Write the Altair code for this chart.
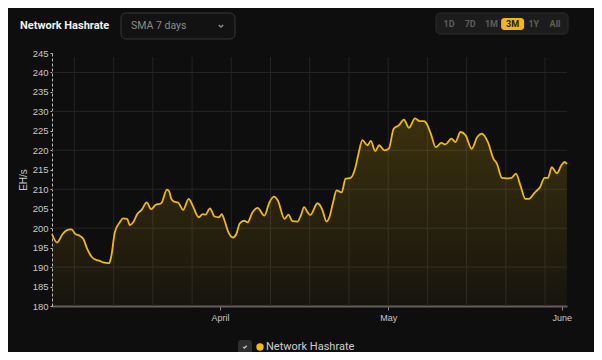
import altair as alt
import pandas as pd

# ---- data ----
day_offsets = [0.0, 0.9, 1.9, 2.9, 3.5, 4.1, 5.0, 5.6, 6.3, 7.1, 8.0, 8.5, 9.1, 10.2, 10.6,
               11.2, 12.1, 12.7, 13.4, 13.9, 14.5, 15.2, 16.0, 16.9, 17.7, 18.5, 19.5, 20.5,
               20.9, 21.3, 21.8, 22.5, 23.4, 24.4, 25.1, 26.2, 26.9, 27.4, 28.2, 29.0, 29.8,
               30.3, 30.8, 31.5, 32.3, 32.9, 33.5, 34.3, 34.9, 35.8, 36.7, 37.9, 38.8, 39.6,
               40.3, 41.5, 42.2, 42.9, 43.8, 44.4, 45.0, 45.6, 46.1, 47.4, 48.2, 49.0, 49.5,
               50.1, 50.8, 51.7, 52.4, 53.3, 54.1, 54.7, 55.4, 56.3, 56.9, 57.7, 58.4, 59.3,
               60.1, 61.0, 61.9, 62.8, 63.7, 64.8, 65.6, 66.4, 66.8, 67.6, 68.5, 69.5, 70.2,
               71.3, 72.0, 72.9, 73.8, 74.9, 75.9, 76.7, 77.8, 78.8, 79.4, 80.3, 81.2, 82.0,
               82.8, 83.6, 84.5, 85.1, 86.2, 87.1, 87.9, 88.5, 89.2, 90.1, 90.9, 91.5, 91.9]
hashrate = [198.5, 196.3, 198.5, 199.6, 199.7, 198.6, 198.0, 197.2, 194.6, 192.6, 191.8, 191.6,
            191.2, 191.0, 192.9, 198.9, 201.5, 202.5, 202.4, 200.8, 201.5, 203.6, 204.7, 206.6,
            204.9, 206.0, 206.4, 209.9, 209.5, 207.5, 206.8, 206.6, 204.7, 207.5, 205.8, 202.8,
            203.6, 203.5, 205.1, 203.0, 202.8, 203.6, 201.9, 198.9, 197.6, 198.5, 201.2, 201.9,
            201.5, 204.1, 205.2, 203.2, 206.6, 208.1, 207.1, 202.4, 203.5, 201.8, 201.7, 203.2,
            205.4, 204.1, 203.4, 206.4, 204.9, 201.7, 202.8, 206.2, 209.7, 209.2, 212.7, 212.9,
            215.3, 219.1, 222.6, 221.3, 222.4, 219.8, 221.3, 220.0, 220.4, 225.6, 226.4, 227.9,
            225.8, 228.2, 227.5, 227.5, 227.0, 224.3, 220.8, 221.9, 221.5, 223.0, 222.1, 224.7,
            223.9, 220.4, 223.4, 224.3, 222.1, 217.8, 216.6, 212.9, 212.8, 212.9, 214.0, 211.0,
            207.5, 207.5, 209.2, 210.5, 212.9, 212.9, 215.7, 214.1, 216.1, 217.0, 216.5]
grid_weeks = ["2022-03-06", "2022-03-13", "2022-03-20", "2022-03-27", "2022-04-03",
              "2022-04-10", "2022-04-17", "2022-04-24", "2022-05-01", "2022-05-08",
              "2022-05-15", "2022-05-22", "2022-05-29"]
grid_levels = [190, 200, 210, 220, 230, 240]
y_ticks = [180, 185, 190, 195, 200, 205, 210, 215, 220, 225, 230, 235, 240, 245]
range_buttons = ["1D", "7D", "1M", "3M", "1Y", "All"]
selected_range = "3M"
series_name = "Network Hashrate"

base_date = pd.Timestamp("2022-03-02")
df = pd.DataFrame({"date": base_date + pd.to_timedelta(day_offsets, unit="D"),
                   "value": hashrate})
grid_x_df = pd.DataFrame({"date": pd.to_datetime(grid_weeks)})
grid_y_df = pd.DataFrame({"value": grid_levels})
one = pd.DataFrame({"k": [0]})

YELLOW = "#f0b90b"
BG = "#0e0e0e"
UI_FONT = "Roboto"
AX_FONT = "Liberation Sans"

xscale = alt.Scale(domain=[alt.DateTime(year=2022, month=3, date=2),
                           alt.DateTime(year=2022, month=6, date=1, hours=22)])
yscale = alt.Scale(domain=[180, 245], zero=False, nice=False)

xaxis = alt.Axis(values=[alt.DateTime(year=2022, month=4, date=1),
                         alt.DateTime(year=2022, month=5, date=1),
                         alt.DateTime(year=2022, month=6, date=1)],
                 format="%B", labelColor="#c8c8c8", labelFontSize=9, labelFont=AX_FONT,
                 domainColor="#5f5f5f", domainWidth=2, tickColor="#8a8a8a", tickSize=4,
                 grid=False, title=None, labelPadding=3)
yaxis = alt.Axis(values=y_ticks, labelColor="#c8c8c8", labelFontSize=9.5, labelFont=AX_FONT,
                 domainDash=[3, 2], domainColor="#bdbdbd", tickColor="#bdbdbd", tickSize=2,
                 grid=False, title="EH/s", titleColor="#c8c8c8", titleFontSize=10,
                 titleFont=AX_FONT, titleFontWeight="normal", titlePadding=4, labelPadding=2)

X = alt.X("date:T", scale=xscale, axis=xaxis)
Y = alt.Y("value:Q", scale=yscale, axis=yaxis)

vgrid = alt.Chart(grid_x_df).mark_rule(color="#242424", strokeWidth=1).encode(
    x=X, y=alt.value(4), y2=alt.value(253))
hgrid = alt.Chart(grid_y_df).mark_rule(color="#262626", strokeWidth=1).encode(y=Y)

area = alt.Chart(df).mark_area(
    interpolate="monotone",
    color=alt.Gradient(gradient="linear",
                       stops=[alt.GradientStop(color="rgba(240,185,11,0.20)", offset=0),
                              alt.GradientStop(color="rgba(240,185,11,0.04)", offset=1)],
                       x1=1, x2=1, y1=0, y2=1)
).encode(x=X, y=Y, y2=alt.datum(180))

line = alt.Chart(df).mark_line(interpolate="monotone", color=YELLOW, strokeWidth=1.8).encode(x=X, y=Y)

# ---- UI decorations (positions relative to plot origin) ----
def txt(t, x, y, **kw):
    return alt.Chart(one).mark_text(text=t, **kw).encode(x=alt.value(x), y=alt.value(y))

def box(x, x2, y, y2, **kw):
    return alt.Chart(one).mark_rect(**kw).encode(x=alt.value(x), x2=alt.value(x2),
                                                 y=alt.value(y), y2=alt.value(y2))

ui = [
    txt("Network Hashrate", -32, -27, align="left", baseline="middle", font=UI_FONT,
        fontSize=11, fontWeight="bold", color="#f2f2f2"),
    box(69, 183, -40, -14, cornerRadius=5, fill="#121212", stroke="#363636", strokeWidth=1),
    txt("SMA 7 days", 79, -27, align="left", baseline="middle", font=UI_FONT, fontSize=10.5,
        color="#8c8c8c"),
    alt.Chart(one).mark_point(shape="M -1 -0.5 L 0 0.5 L 1 -0.5", filled=False, size=20,
                              stroke="#c0c0c0", strokeWidth=1.4)
        .encode(x=alt.value(169), y=alt.value(-27)),
    box(384, 516, -40, -19, cornerRadius=4, fill="#1c1c1c", stroke="#2c2c2c", strokeWidth=1),
]
bx0, bstep = 397, 21.2
for i, lab in enumerate(range_buttons):
    cx = bx0 + i * bstep
    if lab == selected_range:
        ui.append(box(cx - 11.5, cx + 11.5, -35, -23, cornerRadius=3, fill=YELLOW))
    ui.append(txt(lab, cx, -29, align="center", baseline="middle", font=UI_FONT, fontSize=9,
                  fontWeight="bold", color="#1a1a1a" if lab == selected_range else "#5e5e5e"))

ui += [
    box(186, 200, 287, 301, cornerRadius=3, fill="#2e2e2e"),
    alt.Chart(one).mark_point(shape="M -0.8 0 L -0.3 0.5 L 0.8 -0.6", filled=False, size=18,
                              stroke="#ffffff", strokeWidth=1.5)
        .encode(x=alt.value(193), y=alt.value(294)),
    alt.Chart(one).mark_point(shape="circle", filled=True, size=55, color=YELLOW, opacity=1)
        .encode(x=alt.value(208), y=alt.value(294)),
    txt(series_name, 214, 294, align="left", baseline="middle", font=UI_FONT, fontSize=11,
        color="#cfcfcf"),
]

chart = alt.layer(vgrid, hgrid, area, line, *ui).properties(
    width=515, height=253,
    autosize=alt.AutoSizeParams(type="none"),
    padding={"left": 44, "top": 45, "right": 27, "bottom": 46},
).configure(background=BG).configure_view(stroke=None)

chart.save("out.html", embed_options={"renderer": "svg", "actions": False})
